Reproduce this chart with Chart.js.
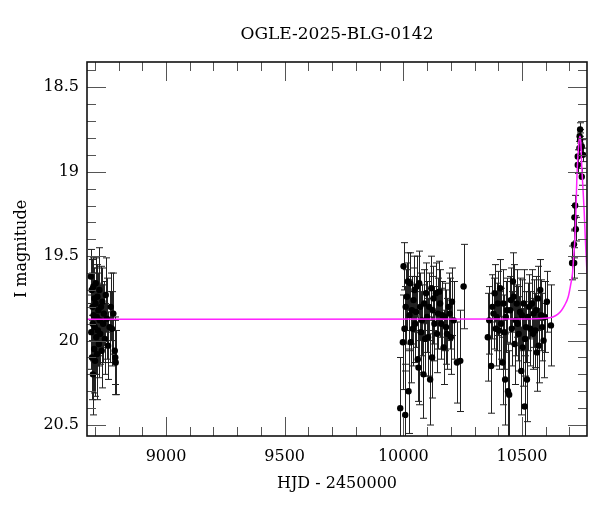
<!DOCTYPE html>
<html>
<head>
<meta charset="utf-8">
<script src="https://cdn.jsdelivr.net/npm/chart.js@4.4.0/dist/chart.umd.min.js"></script>
<style>
  body { margin: 0; background: #fff; }
  canvas { display: block; }
</style>
</head>
<body>
<canvas id="lcChart" width="600" height="512"></canvas>
<script>
// season 1
const hjd1 = [8683, 8685, 8687, 8688, 8690, 8691, 8692, 8694, 8695, 8697, 8698, 8700, 8701, 8703, 8704, 8706, 8708, 8709, 8711, 8713, 8715, 8717, 8719, 8721, 8723, 8726, 8729, 8732, 8735, 8738, 8742, 8746, 8751, 8756, 8762, 8767, 8772, 8778, 8784, 8786, 8788];
const mag1 = [19.62, 19.95, 19.70, 20.10, 19.80, 19.90, 20.20, 19.68, 19.85, 20.05, 19.75, 19.92, 20.12, 19.78, 19.66, 19.98, 19.86, 20.08, 19.74, 19.94, 19.82, 20.02, 19.70, 19.88, 19.96, 19.80, 20.06, 19.77, 19.90, 19.84, 19.99, 19.73, 19.87, 20.03, 19.92, 19.80, 19.93, 19.84, 20.06, 20.10, 20.13];
const err1 = [0.16, 0.22, 0.18, 0.25, 0.20, 0.22, 0.24, 0.17, 0.20, 0.26, 0.18, 0.23, 0.21, 0.21, 0.15, 0.22, 0.20, 0.27, 0.19, 0.21, 0.22, 0.20, 0.25, 0.21, 0.18, 0.24, 0.22, 0.20, 0.23, 0.19, 0.21, 0.22, 0.24, 0.20, 0.21, 0.20, 0.22, 0.24, 0.20, 0.22, 0.19];

// season 2
const hjd2 = [9987, 9998, 10001, 10005, 10008, 10010, 10015, 10019, 10022, 10026, 10029, 10031, 10036, 10040, 10043, 10047, 10050, 10054, 10057, 10061, 10064, 10067, 10071, 10074, 10078, 10085, 10088, 10092, 10096, 10100, 10104, 10109, 10113, 10118, 10121, 10124, 10127, 10131, 10137, 10142, 10146, 10151, 10155, 10160, 10165, 10170, 10176, 10180, 10184, 10191, 10195, 10200, 10205, 10212, 10226, 10240, 10254];
const mag2 = [20.40, 20.01, 19.56, 19.93, 20.44, 19.80, 19.74, 19.65, 20.30, 19.85, 19.66, 20.01, 19.82, 19.93, 19.76, 19.70, 19.90, 19.83, 19.68, 20.11, 20.16, 19.66, 19.80, 19.95, 19.88, 20.20, 19.78, 19.99, 19.72, 19.86, 19.98, 19.80, 20.23, 19.69, 20.10, 19.82, 19.75, 19.90, 19.72, 19.96, 19.84, 19.71, 19.78, 19.90, 19.85, 20.04, 19.86, 19.92, 19.96, 19.80, 19.84, 19.98, 19.77, 19.88, 20.13, 20.12, 19.68];
const err2 = [0.30, 0.28, 0.14, 0.25, 0.30, 0.22, 0.20, 0.17, 0.25, 0.21, 0.18, 0.24, 0.20, 0.22, 0.19, 0.20, 0.23, 0.21, 0.18, 0.25, 0.22, 0.19, 0.20, 0.24, 0.21, 0.26, 0.20, 0.22, 0.18, 0.21, 0.23, 0.20, 0.27, 0.19, 0.24, 0.20, 0.19, 0.22, 0.18, 0.23, 0.21, 0.18, 0.20, 0.21, 0.20, 0.22, 0.20, 0.22, 0.21, 0.20, 0.21, 0.22, 0.20, 0.23, 0.24, 0.30, 0.25];

// season 3
const hjd3 = [10356, 10362, 10370, 10375, 10380, 10385, 10390, 10393, 10398, 10404, 10408, 10412, 10418, 10422, 10426, 10429, 10432, 10436, 10441, 10446, 10450, 10453, 10457, 10462, 10465, 10469, 10474, 10478, 10482, 10486, 10492, 10497, 10500, 10503, 10507, 10511, 10513, 10517, 10521, 10525, 10530, 10535, 10542, 10546, 10549, 10556, 10560, 10563, 10567, 10570, 10577, 10581, 10585, 10591, 10596, 10605, 10622];
const mag3 = [19.98, 19.88, 20.15, 19.80, 19.84, 19.72, 19.93, 19.86, 19.78, 19.94, 19.69, 19.90, 20.13, 19.78, 19.95, 20.23, 19.86, 19.82, 20.30, 20.32, 19.82, 19.76, 19.93, 19.65, 19.74, 20.02, 19.88, 19.78, 19.90, 19.96, 19.83, 20.18, 19.85, 20.04, 19.78, 20.39, 19.99, 19.92, 20.23, 19.86, 19.80, 19.93, 19.78, 19.96, 19.84, 19.94, 19.82, 20.07, 19.75, 20.03, 19.70, 19.85, 19.92, 20.00, 19.86, 19.77, 19.91];
const err3 = [0.26, 0.20, 0.28, 0.19, 0.21, 0.17, 0.22, 0.20, 0.19, 0.23, 0.17, 0.21, 0.25, 0.20, 0.22, 0.27, 0.21, 0.19, 0.28, 0.26, 0.20, 0.19, 0.22, 0.17, 0.19, 0.24, 0.21, 0.20, 0.22, 0.22, 0.20, 0.26, 0.21, 0.23, 0.20, 0.30, 0.22, 0.21, 0.25, 0.20, 0.19, 0.22, 0.20, 0.21, 0.20, 0.22, 0.20, 0.23, 0.19, 0.22, 0.18, 0.21, 0.20, 0.22, 0.21, 0.18, 0.24];

// event peak
const hjd4 = [10711, 10719, 10720, 10721, 10724, 10727, 10735, 10735, 10742, 10743, 10745, 10745, 10752, 10752, 10757];
const mag4 = [19.54, 19.43, 19.54, 19.27, 19.20, 19.34, 18.91, 18.96, 18.86, 18.79, 18.75, 18.81, 18.85, 19.03, 18.90];
const err4 = [0.10, 0.08, 0.09, 0.07, 0.06, 0.07, 0.04, 0.05, 0.04, 0.04, 0.04, 0.04, 0.04, 0.05, 0.04];

// model curve
const modelHjd = [8660, 10500, 10600, 10630, 10650, 10667, 10680, 10695, 10705, 10713, 10718, 10723, 10727, 10731, 10736, 10741, 10745, 10748, 10752, 10757, 10762, 10767, 10774, 10780];
const modelMag = [19.873, 19.872, 19.868, 19.86, 19.845, 19.82, 19.79, 19.74, 19.67, 19.60, 19.50, 19.40, 19.25, 19.05, 18.90, 18.81, 18.79, 18.83, 18.97, 19.10, 19.23, 19.40, 19.60, 19.80];

const xMajor = [9000, 9500, 10000, 10500];
const yMajor = [18.5, 19, 19.5, 20, 20.5];
const xRange = [8667, 10774];
const yRange = [18.35, 20.565];
const titleText = 'OGLE-2025-BLG-0142';

const FONT = "'DejaVu Serif', serif";

const toPts = (h, m, e) => h.map((v, i) => ({ x: v, y: m[i], e: e[i] }));
const obs = [
  ...toPts(hjd1, mag1, err1),
  ...toPts(hjd2, mag2, err2),
  ...toPts(hjd3, mag3, err3),
  ...toPts(hjd4, mag4, err4)
];
const model = modelHjd.map((v, i) => ({ x: v, y: modelMag[i] }));

// error bars under the points
const errorBars = {
  id: 'errorBars',
  beforeDatasetsDraw(chart) {
    const { ctx, chartArea: a, scales: { x, y } } = chart;
    ctx.save();
    ctx.beginPath();
    ctx.rect(a.left, a.top, a.right - a.left, a.bottom - a.top);
    ctx.clip();
    ctx.strokeStyle = '#222';
    ctx.lineWidth = 1;
    obs.forEach(p => {
      const px = Math.round(x.getPixelForValue(p.x)) + 0.5;
      const y1 = y.getPixelForValue(p.y - p.e);
      const y2 = y.getPixelForValue(p.y + p.e);
      ctx.beginPath();
      ctx.moveTo(px, y1); ctx.lineTo(px, y2);
      ctx.moveTo(px - 3.5, y1); ctx.lineTo(px + 3.5, y1);
      ctx.moveTo(px - 3.5, y2); ctx.lineTo(px + 3.5, y2);
      ctx.stroke();
    });
    ctx.restore();
  }
};

// box with inward ticks on all four sides, title centred over the plot
const frameTicks = {
  id: 'frameTicks',
  afterDraw(chart) {
    const { ctx, chartArea: a, scales: { x, y } } = chart;
    ctx.save();
    ctx.strokeStyle = '#555';
    ctx.lineWidth = 1;
    ctx.beginPath();
    for (let v = 8700; v <= 10700; v += 100) {
      const px = Math.round(x.getPixelForValue(v)) + 0.5;
      const len = xMajor.includes(v) ? 19 : 9;
      ctx.moveTo(px, a.bottom); ctx.lineTo(px, a.bottom - len);
      ctx.moveTo(px, a.top); ctx.lineTo(px, a.top + len);
    }
    for (let k = 184; k <= 205; k++) {
      const v = k / 10;
      const py = Math.round(y.getPixelForValue(v)) + 0.5;
      const len = yMajor.some(m => Math.abs(m - v) < 1e-6) ? 19 : 9;
      ctx.moveTo(a.left, py); ctx.lineTo(a.left + len, py);
      ctx.moveTo(a.right, py); ctx.lineTo(a.right - len, py);
    }
    ctx.stroke();
    ctx.strokeStyle = '#111';
    ctx.lineWidth = 1.6;
    ctx.strokeRect(a.left, a.top, a.right - a.left, a.bottom - a.top);

    ctx.fillStyle = '#000';
    ctx.font = '17px ' + FONT;
    ctx.textAlign = 'center';
    ctx.textBaseline = 'middle';
    ctx.fillText(titleText, (a.left + a.right) / 2, 35);
    ctx.restore();
  }
};

new Chart(document.getElementById('lcChart'), {
  type: 'scatter',
  data: {
    datasets: [
      {
        label: 'model',
        type: 'line',
        data: model,
        borderColor: '#ff22ff',
        borderWidth: 1.5,
        pointRadius: 0,
        showLine: true,
        cubicInterpolationMode: 'monotone',
        fill: false
      },
      {
        label: 'OGLE I',
        data: obs,
        backgroundColor: '#000',
        borderColor: '#000',
        pointRadius: 3.2,
        borderWidth: 0
      }
    ]
  },
  options: {
    responsive: false,
    animation: false,
    layout: { padding: { top: 62, right: 13, bottom: 0, left: 0 } },
    plugins: {
      legend: { display: false },
      tooltip: { enabled: false },
      title: { display: false }
    },
    scales: {
      x: {
        type: 'linear',
        min: xRange[0],
        max: xRange[1],
        grid: { display: false, drawTicks: false },
        border: { display: false },
        afterBuildTicks: s => { s.ticks = xMajor.map(value => ({ value })); },
        afterFit: s => { s.height = 76; },
        ticks: {
          color: '#000',
          padding: 11,
          maxRotation: 0,
          font: { family: FONT, size: 16 },
          callback: v => String(v)
        },
        title: {
          display: true,
          text: 'HJD - 2450000',
          color: '#000',
          font: { family: FONT, size: 16 },
          padding: { top: 19, bottom: 19 }
        }
      },
      y: {
        type: 'linear',
        reverse: true,
        min: yRange[0],
        max: yRange[1],
        grid: { display: false, drawTicks: false },
        border: { display: false },
        afterBuildTicks: s => { s.ticks = yMajor.map(value => ({ value })); },
        afterFit: s => { s.width = 87; },
        ticks: {
          color: '#000',
          padding: 8,
          font: { family: FONT, size: 16 },
          callback: v => String(v)
        },
        title: {
          display: true,
          text: 'I magnitude',
          color: '#000',
          font: { family: FONT, size: 16 },
          padding: { top: 12, bottom: 12 }
        }
      }
    }
  },
  plugins: [errorBars, frameTicks]
});
</script>
</body>
</html>
